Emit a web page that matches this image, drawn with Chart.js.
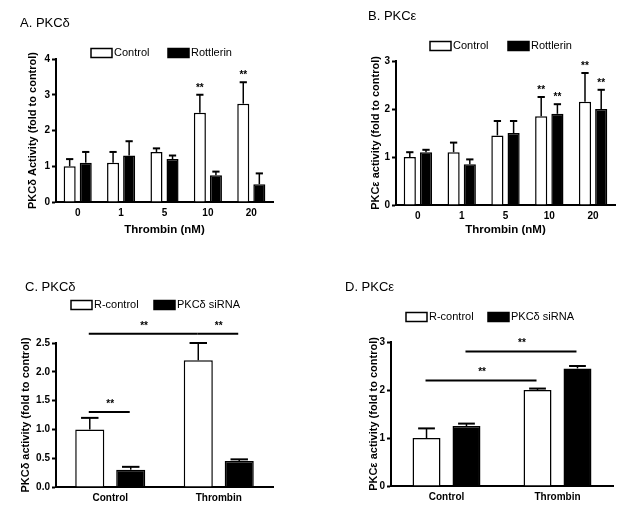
<!DOCTYPE html>
<html>
<head>
<meta charset="utf-8">
<script src="https://cdn.jsdelivr.net/npm/chart.js@4"></script>
<style>
  body { margin: 0; background: #fff; }
  #wrap { position: relative; width: 626px; height: 512px; background: #fff; }
  canvas { position: absolute; }
</style>
</head>
<body>
<div id="wrap">
  <canvas id="chartA" width="313" height="250" style="left:0;top:0"></canvas>
  <canvas id="chartB" width="313" height="250" style="left:313px;top:0"></canvas>
  <canvas id="chartC" width="313" height="257" style="left:0;top:255px"></canvas>
  <canvas id="chartD" width="313" height="257" style="left:313px;top:255px"></canvas>
</div>
<script>
// Data
const doses = ['0', '1', '5', '10', '20'];
const groups = ['Control', 'Thrombin'];

// A. PKCδ with rottlerin
const ctrlA = [1.0, 1.1, 1.4, 2.5, 2.75];
const ctrlErrA = [0.2, 0.3, 0.1, 0.5, 0.6];
const ctrlStarsA = [false, false, false, true, true];
const rotA = [1.1, 1.3, 1.2, 0.75, 0.5];
const rotErrA = [0.3, 0.4, 0.1, 0.1, 0.3];
const rotStarsA = [false, false, false, false, false];

// B. PKCε with rottlerin
const ctrlB = [1.0, 1.1, 1.45, 1.85, 2.15];
const ctrlErrB = [0.1, 0.2, 0.3, 0.4, 0.6];
const ctrlStarsB = [false, false, false, true, true];
const rotB = [1.1, 0.85, 1.5, 1.9, 2.0];
const rotErrB = [0.05, 0.1, 0.25, 0.2, 0.4];
const rotStarsB = [false, false, false, true, true];

// C. PKCδ with siRNA
const rctrlC = [1.0, 2.2];
const rctrlErrC = [0.2, 0.3];
const sirnaC = [0.3, 0.45];
const sirnaErrC = [0.05, 0.03];
const bracketsC = [
    { from: [0, 0], to: [1, 0], value: 1.3 },
    { from: [0, 0], to: [0, 1], value: 2.66 },
    { from: [0, 1], to: [1, 1], value: 2.66 }
];

// D. PKCε with siRNA
const rctrlD = [1.0, 2.0];
const rctrlErrD = [0.2, 0.03];
const sirnaD = [1.25, 2.45];
const sirnaErrD = [0.05, 0.05];
const bracketsD = [
    { from: [0, 0], to: [0, 1], value: 2.2 },
    { from: [1, 0], to: [1, 1], value: 2.8 }
];

const FONT = "'Liberation Sans', Arial, sans-serif";

// Plugins
const errorBars = {
    id: 'errorBars',
    afterDatasetsDraw(chart) {
        const ctx = chart.ctx;
        const y = chart.scales.y;
        ctx.save();
        ctx.strokeStyle = '#000';
        ctx.fillStyle = '#000';
        chart.data.datasets.forEach((ds, di) => {
            const meta = chart.getDatasetMeta(di);
            meta.data.forEach((bar, i) => {
                const top = y.getPixelForValue(ds.data[i] + ds.errors[i]);
                const half = Math.max(3.5, bar.width * 0.3);
                ctx.lineWidth = 1.5;
                ctx.beginPath();
                ctx.moveTo(bar.x, bar.y);
                ctx.lineTo(bar.x, top);
                ctx.stroke();
                ctx.lineWidth = 2;
                ctx.beginPath();
                ctx.moveTo(bar.x - half, top);
                ctx.lineTo(bar.x + half, top);
                ctx.stroke();
                if (ds.stars && ds.stars[i]) {
                    ctx.font = 'bold 10px ' + FONT;
                    ctx.textAlign = 'center';
                    ctx.textBaseline = 'bottom';
                    ctx.fillText('**', bar.x, top - 2);
                }
            });
        });
        ctx.restore();
    }
};

const decor = {
    id: 'decor',
    afterDraw(chart, args, opts) {
        const ctx = chart.ctx;
        const y = chart.scales.y;
        ctx.save();
        // panel title
        ctx.fillStyle = '#000';
        ctx.font = '13px ' + FONT;
        ctx.textAlign = 'left';
        ctx.textBaseline = 'middle';
        ctx.fillText(opts.title, opts.titlePos[0], opts.titlePos[1]);

        // legend
        ctx.font = '11px ' + FONT;
        chart.data.datasets.forEach((ds, di) => {
            const [lx, ly] = opts.legendPos[di];
            ctx.fillStyle = ds.backgroundColor;
            ctx.fillRect(lx, ly - 4.5, 21, 9);
            ctx.lineWidth = 1.5;
            ctx.strokeStyle = '#000';
            ctx.strokeRect(lx, ly - 4.5, 21, 9);
            ctx.fillStyle = '#000';
            ctx.fillText(ds.label, lx + 23, ly);
        });

        // significance brackets
        (opts.brackets || []).forEach(b => {
            const a = chart.getDatasetMeta(b.from[0]).data[b.from[1]];
            const c = chart.getDatasetMeta(b.to[0]).data[b.to[1]];
            const py = y.getPixelForValue(b.value);
            ctx.lineWidth = 2;
            ctx.strokeStyle = '#000';
            ctx.beginPath();
            ctx.moveTo(a.x - 1, py);
            ctx.lineTo(c.x - 1, py);
            ctx.stroke();
            ctx.font = 'bold 10px ' + FONT;
            ctx.textAlign = 'center';
            ctx.textBaseline = 'bottom';
            ctx.fillText('**', (a.x + c.x) / 2, py - 3);
        });
        ctx.restore();
    }
};

const makePanel = (id, cfg) => {
    const ctx = document.getElementById(id).getContext('2d');
    return new Chart(ctx, {
        type: 'bar',
        data: {
            labels: cfg.labels,
            datasets: cfg.series.map((s, i) => ({
                label: s.label,
                data: s.data,
                errors: s.errors,
                stars: s.stars,
                backgroundColor: i === 0 ? '#ffffff' : '#000000',
                borderColor: '#000000',
                borderWidth: 1.5,
                borderSkipped: 'bottom',
                categoryPercentage: cfg.catPct,
                barPercentage: cfg.barPct
            }))
        },
        options: {
            responsive: false,
            animation: false,
            devicePixelRatio: 1,
            layout: { padding: cfg.padding },
            plugins: {
                legend: { display: false },
                tooltip: { enabled: false },
                decor: {
                    title: cfg.title,
                    titlePos: cfg.titlePos,
                    legendPos: cfg.legendPos,
                    brackets: cfg.brackets
                }
            },
            scales: {
                x: {
                    afterFit: (s) => { s.height = cfg.xHeight; },
                    border: { display: true, color: '#000', width: 2 },
                    grid: { display: true, drawOnChartArea: false, drawTicks: false, color: '#000' },
                    ticks: { color: '#000', padding: 5, font: { family: FONT, size: 10, weight: 'bold' } },
                    title: {
                        display: !!cfg.xTitle,
                        text: cfg.xTitle || '',
                        color: '#000',
                        font: { family: FONT, size: 11.5, weight: 'bold' }
                    }
                },
                y: {
                    min: 0,
                    max: cfg.yMax,
                    afterFit: (s) => { s.width = cfg.yWidth; },
                    border: { display: true, color: '#000', width: 2 },
                    grid: { drawOnChartArea: false, drawTicks: true, tickLength: 4, tickWidth: 2, tickColor: '#000', color: '#000' },
                    ticks: {
                        stepSize: cfg.yStep,
                        color: '#000',
                        padding: 2,
                        font: { family: FONT, size: 10, weight: 'bold' },
                        callback: (v) => cfg.yStep < 1 ? v.toFixed(1) : v
                    },
                    title: {
                        display: true,
                        text: cfg.yTitle,
                        color: '#000',
                        padding: { top: 4, bottom: 4 },
                        font: { family: FONT, size: 11, weight: 'bold' }
                    }
                }
            }
        },
        plugins: [errorBars, decor]
    });
};

makePanel('chartA', {
    labels: doses,
    series: [
        { label: 'Control', data: ctrlA, errors: ctrlErrA, stars: ctrlStarsA },
        { label: 'Rottlerin', data: rotA, errors: rotErrA, stars: rotStarsA }
    ],
    title: 'A. PKCδ', titlePos: [20, 23],
    legendPos: [[91, 53], [168, 53]],
    yMax: 4, yStep: 1, yTitle: 'PKCδ Activity (fold to control)', xTitle: 'Thrombin (nM)',
    padding: { left: 22, top: 59, right: 40, bottom: 9 }, yWidth: 34, xHeight: 39,
    catPct: 0.74, barPct: 0.75
});

makePanel('chartB', {
    labels: doses,
    series: [
        { label: 'Control', data: ctrlB, errors: ctrlErrB, stars: ctrlStarsB },
        { label: 'Rottlerin', data: rotB, errors: rotErrB, stars: rotStarsB }
    ],
    title: 'B. PKCε', titlePos: [55, 16],
    legendPos: [[117, 46], [195, 46]],
    yMax: 3, yStep: 1, yTitle: 'PKCε activity (fold to control)', xTitle: 'Thrombin (nM)',
    padding: { left: 52, top: 61, right: 11, bottom: 9 }, yWidth: 31, xHeight: 36,
    catPct: 0.74, barPct: 0.75
});

makePanel('chartC', {
    labels: groups,
    series: [
        { label: 'R-control', data: rctrlC, errors: rctrlErrC },
        { label: 'PKCδ siRNA', data: sirnaC, errors: sirnaErrC }
    ],
    title: 'C. PKCδ', titlePos: [25, 32],
    legendPos: [[71, 50], [154, 50]],
    brackets: bracketsC,
    yMax: 2.5, yStep: 0.5, yTitle: 'PKCδ activity (fold to control)',
    padding: { left: 15, top: 88, right: 40, bottom: 5 }, yWidth: 41, xHeight: 20,
    catPct: 0.755, barPct: 0.71
});

makePanel('chartD', {
    labels: groups,
    series: [
        { label: 'R-control', data: rctrlD, errors: rctrlErrD },
        { label: 'PKCδ siRNA', data: sirnaD, errors: sirnaErrD }
    ],
    title: 'D. PKCε', titlePos: [32, 32],
    legendPos: [[93, 62], [175, 62]],
    brackets: bracketsD,
    yMax: 3, yStep: 1, yTitle: 'PKCε activity (fold to control)',
    padding: { left: 50, top: 87, right: 13, bottom: 6 }, yWidth: 28, xHeight: 20,
    catPct: 0.72, barPct: 0.7
});
</script>
</body>
</html>
